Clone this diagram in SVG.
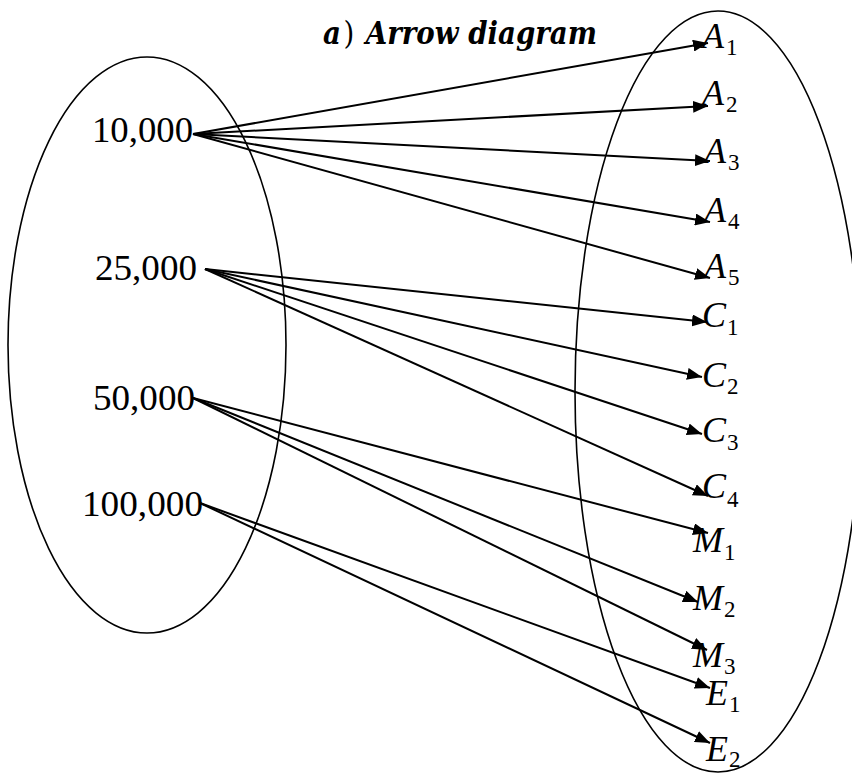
<svg xmlns="http://www.w3.org/2000/svg" width="852" height="773" viewBox="0 0 852 773">
<style>
.ell{fill:none;stroke:#000;stroke-width:1.6}
.con line{stroke:#000;stroke-width:2}
.num{font-family:"Liberation Serif",serif;font-size:36px;fill:#000}
.lab{font-family:"Liberation Serif",serif;font-style:italic;font-size:36px;fill:#000}
.sub{font-size:23px;font-style:normal}
.title{font-family:"DejaVu Serif",serif;font-size:31px;font-weight:bold;font-style:italic;fill:#000}
</style>
<defs>
<marker id="ah" markerUnits="userSpaceOnUse" markerWidth="16" markerHeight="12" refX="15" refY="6" orient="auto">
<path d="M0,0 L15,6 L0,12 Z" fill="#000"/>
</marker>
</defs>
<rect width="852" height="773" fill="#fff"/>
<g id="title"><text class="title" x="323" y="44" textLength="274" lengthAdjust="spacingAndGlyphs">a<tspan font-style="normal" font-weight="normal" dx="3">)</tspan><tspan dx="2"> Arrow diagram</tspan></text></g>
<g id="set-left"><ellipse class="ell" cx="147" cy="345" rx="139" ry="288"/></g>
<g id="set-right"><ellipse class="ell" cx="718" cy="391.5" rx="143" ry="380.5"/></g>
<g id="n10000"><text class="num" x="92" y="142" textLength="101" lengthAdjust="spacingAndGlyphs">10,000</text></g>
<g id="n25000"><text class="num" x="95" y="280" textLength="102" lengthAdjust="spacingAndGlyphs">25,000</text></g>
<g id="n50000"><text class="num" x="93" y="410" textLength="102" lengthAdjust="spacingAndGlyphs">50,000</text></g>
<g id="n100000"><text class="num" x="82" y="516" textLength="121" lengthAdjust="spacingAndGlyphs">100,000</text></g>
<g id="A1"><text class="lab" x="702" y="48">A<tspan class="sub" dx="2" dy="7">1</tspan></text></g>
<g id="A2"><text class="lab" x="702" y="105">A<tspan class="sub" dx="2" dy="7">2</tspan></text></g>
<g id="A3"><text class="lab" x="704" y="163">A<tspan class="sub" dx="2" dy="7">3</tspan></text></g>
<g id="A4"><text class="lab" x="704" y="222">A<tspan class="sub" dx="2" dy="7">4</tspan></text></g>
<g id="A5"><text class="lab" x="704" y="278">A<tspan class="sub" dx="2" dy="7">5</tspan></text></g>
<g id="C1"><text class="lab" x="702" y="327">C<tspan class="sub" dx="1" dy="8">1</tspan></text></g>
<g id="C2"><text class="lab" x="702" y="387">C<tspan class="sub" dx="1" dy="7">2</tspan></text></g>
<g id="C3"><text class="lab" x="702" y="442">C<tspan class="sub" dx="1" dy="8">3</tspan></text></g>
<g id="C4"><text class="lab" x="702" y="498">C<tspan class="sub" dx="1" dy="9">4</tspan></text></g>
<g id="M1"><text class="lab" x="693" y="552">M<tspan class="sub" dx="1" dy="8">1</tspan></text></g>
<g id="M2"><text class="lab" x="693" y="610">M<tspan class="sub" dx="1" dy="7">2</tspan></text></g>
<g id="M3"><text class="lab" x="693" y="667">M<tspan class="sub" dx="1" dy="7">3</tspan></text></g>
<g id="E1"><text class="lab" x="706" y="705">E<tspan class="sub" dx="1" dy="7">1</tspan></text></g>
<g id="E2"><text class="lab" x="706" y="761">E<tspan class="sub" dx="1" dy="6">2</tspan></text></g>
<g id="connectors" class="con">
<line x1="193" y1="134" x2="708" y2="43" marker-end="url(#ah)"/>
<line x1="193" y1="134" x2="708" y2="106" marker-end="url(#ah)"/>
<line x1="193" y1="134" x2="710" y2="161" marker-end="url(#ah)"/>
<line x1="193" y1="134" x2="710" y2="222" marker-end="url(#ah)"/>
<line x1="193" y1="134" x2="710" y2="278" marker-end="url(#ah)"/>
<line x1="205" y1="269" x2="707" y2="322" marker-end="url(#ah)"/>
<line x1="205" y1="269" x2="702" y2="377" marker-end="url(#ah)"/>
<line x1="205" y1="269" x2="702" y2="434" marker-end="url(#ah)"/>
<line x1="205" y1="269" x2="708" y2="496" marker-end="url(#ah)"/>
<line x1="193" y1="398" x2="708" y2="533" marker-end="url(#ah)"/>
<line x1="193" y1="398" x2="698" y2="602" marker-end="url(#ah)"/>
<line x1="193" y1="398" x2="707" y2="650" marker-end="url(#ah)"/>
<line x1="200" y1="503" x2="710" y2="688" marker-end="url(#ah)"/>
<line x1="200" y1="503" x2="710" y2="743" marker-end="url(#ah)"/>
</g>
</svg>
